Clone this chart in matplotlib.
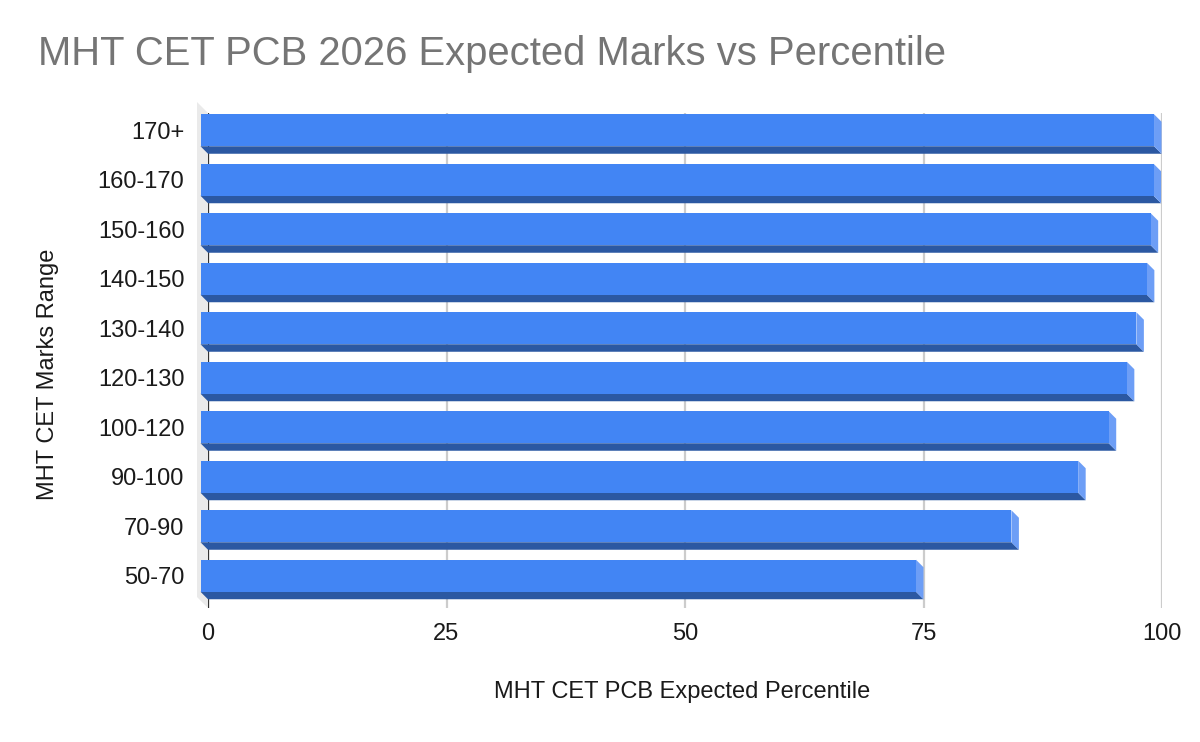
import numpy as np
import matplotlib
matplotlib.use("Agg")
import matplotlib.pyplot as plt
from matplotlib.patches import Polygon
from matplotlib.transforms import ScaledTranslation

plt.rcParams['font.family'] = ['Liberation Sans', 'DejaVu Sans']

# data
marks = ["170+", "160-170", "150-160", "140-150", "130-140",
         "120-130", "100-120", "90-100", "70-90", "50-70"]
percentile = [99.95, 99.9, 99.6, 99.2, 98.1, 97.1, 95.2, 92.0, 85.0, 75.0]
xticks = [0, 25, 50, 75, 100]

# colours
front_c = "#4285F4"
bottom_c = "#2B58A2"
side_c = "#6D9EF6"

W, H = 1200, 742
fig = plt.figure(figsize=(W / 100, H / 100), dpi=100)

# axes box in pixels (back plane)
left, right, top, bottom = 208, 1162, 113, 608
ax = fig.add_axes([left / W, 1 - bottom / H, (right - left) / W, (bottom - top) / H])
ax.set_xlim(0, 100)
ax.set_ylim(len(marks) - 0.5, -0.5)

# pixel -> data scale
px_x = (right - left) / 100.0
px_y = (bottom - top) / len(marks)
d = 7.5                      # depth of the bars in pixels
dx = d / px_x
dy = d / px_y
h = 32 / px_y                # bar thickness

# left wall
wd = 11
wx = wd / (right - left)
wy = wd / (bottom - top)
wall = Polygon([(-wx, 1 + wy), (0, 1), (0, 0), (-wx, wy)], closed=True,
               transform=ax.transAxes, facecolor="#EAEAEA", edgecolor="none",
               clip_on=False, zorder=0)
ax.add_patch(wall)

ax.set_xticks(xticks)
ax.grid(axis='x', color="#CCCCCC", lw=1.6, zorder=0.5)
ax.set_axisbelow(True)
ax.axvline(0, color="#333333", lw=1.6, zorder=1)

for i, v in enumerate(percentile):
    yt, yb = i - h / 2, i + h / 2
    # bottom face
    ax.add_patch(Polygon([(-dx, yb - dy), (v - dx, yb - dy), (v, yb), (0, yb)],
                         closed=True, facecolor=bottom_c, edgecolor="none",
                         clip_on=False, zorder=2))
    # right face
    ax.add_patch(Polygon([(v - dx, yt - dy), (v, yt), (v, yb), (v - dx, yb - dy)],
                         closed=True, facecolor=side_c, edgecolor="none",
                         clip_on=False, zorder=2))
    # front face
    ax.add_patch(Polygon([(-dx, yt - dy), (v - dx, yt - dy), (v - dx, yb - dy), (-dx, yb - dy)],
                         closed=True, facecolor=front_c, edgecolor="none",
                         clip_on=False, zorder=3))

for s in ax.spines.values():
    s.set_visible(False)

ax.set_yticks(range(len(marks)))
ax.set_yticklabels(marks)
ax.tick_params(axis='y', length=0, pad=17, labelsize=17, labelcolor="#1a1a1a")
ax.tick_params(axis='x', length=0, pad=11, labelsize=17, labelcolor="#1a1a1a")
shift = ScaledTranslation(0, d / 100, fig.dpi_scale_trans)
for lab in ax.get_yticklabels():
    lab.set_transform(lab.get_transform() + shift)

fig.text(38 / W, 1 - 54 / H, "MHT CET PCB 2026 Expected Marks vs Percentile",
         fontsize=28.8, color="#757575", ha='left', va='center')
fig.text(682 / W, 1 - 692 / H, "MHT CET PCB Expected Percentile",
         fontsize=17, color="#1a1a1a", ha='center', va='center')
fig.text(48 / W, 1 - 374 / H, "MHT CET Marks Range", rotation=90,
         fontsize=17, color="#1a1a1a", ha='center', va='center')

fig.savefig("out.png", dpi=100, facecolor="white")
